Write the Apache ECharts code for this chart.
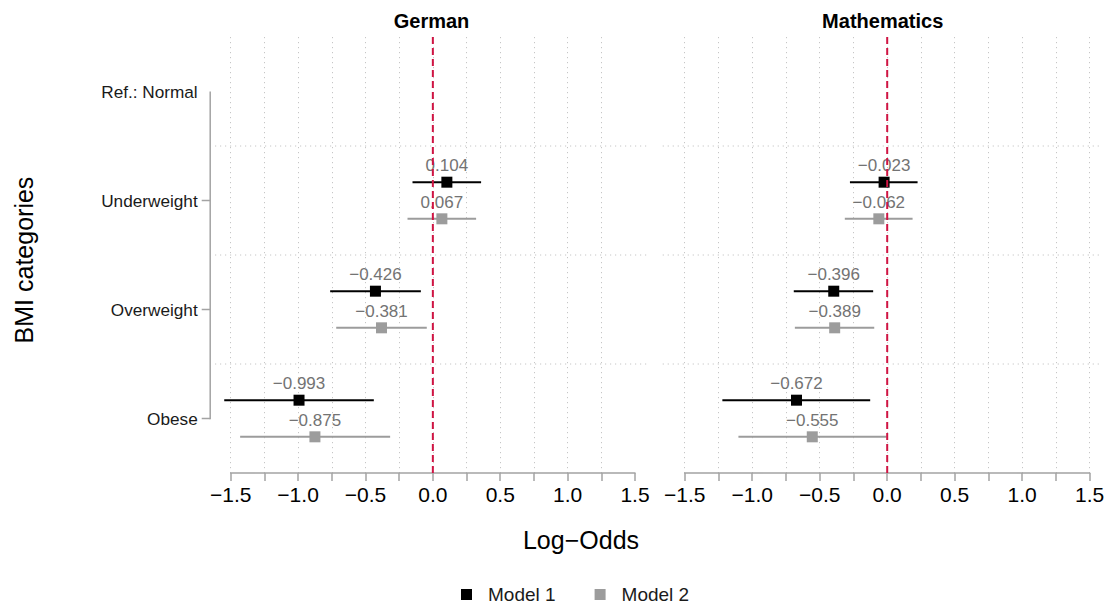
<!DOCTYPE html>
<html><head><meta charset="utf-8">
<script src="https://cdn.jsdelivr.net/npm/echarts@6/dist/echarts.min.js"></script>
<style>html,body{margin:0;padding:0;background:#fff}#c{width:1120px;height:605px}</style>
</head><body><div id="c"></div>
<script>
// ---------- data ----------
const categories = ['Ref.: Normal', 'Underweight', 'Overweight', 'Obese'];
const panels = ['German', 'Mathematics'];
const models = ['Model 1', 'Model 2'];
const xTickMin = -1.5, xTickMax = 1.5, xTickStep = 0.25;

// German (index 0 = reference category, no estimate)
const germanM1Est = [null, 0.104, -0.426, -0.993];
const germanM1Lo  = [null, -0.151, -0.762, -1.548];
const germanM1Hi  = [null, 0.358, -0.089, -0.438];
const germanM2Est = [null, 0.067, -0.381, -0.875];
const germanM2Lo  = [null, -0.188, -0.717, -1.430];
const germanM2Hi  = [null, 0.321, -0.045, -0.317];
// Mathematics
const mathM1Est = [null, -0.023, -0.396, -0.672];
const mathM1Lo  = [null, -0.276, -0.692, -1.221];
const mathM1Hi  = [null, 0.225, -0.104, -0.126];
const mathM2Est = [null, -0.062, -0.389, -0.555];
const mathM2Lo  = [null, -0.314, -0.684, -1.102];
const mathM2Hi  = [null, 0.188, -0.096, -0.004];

// ---------- build ----------
const FONT = '"Liberation Sans", Arial, Helvetica, sans-serif';
const AX = '#a3a3a3';
const modelColors = ['#000000', '#9c9c9c'];
const fmt = v => v.toFixed(3).replace('-', '\u2212');
const fmtTick = v => (Math.abs(v * 2 - Math.round(v * 2)) < 1e-9) ? v.toFixed(1).replace('-', '\u2212') : '';

function rows(est, lo, hi) {
  const out = [];
  for (let i = 0; i < categories.length; i++) {
    if (est[i] == null) continue;
    out.push([lo[i], hi[i], est[i], i]);
  }
  return out;
}
const panelData = [
  [rows(germanM1Est, germanM1Lo, germanM1Hi), rows(germanM2Est, germanM2Lo, germanM2Hi)],
  [rows(mathM1Est, mathM1Lo, mathM1Hi), rows(mathM2Est, mathM2Lo, mathM2Hi)]
];

function bandOf(api) {
  return Math.abs(api.coord([0, 1])[1] - api.coord([0, 0])[1]);
}

function estRender(sign, color) {
  return function (params, api) {
    const lo = api.value(0), hi = api.value(1), est = api.value(2), ci = api.value(3);
    const dy = sign * bandOf(api) * 0.168;
    const pLo = api.coord([lo, ci]), pHi = api.coord([hi, ci]), pE = api.coord([est, ci]);
    const y = pE[1] + dy;
    return {
      type: 'group',
      children: [
        { type: 'line', shape: { x1: pLo[0], y1: y, x2: pHi[0], y2: y }, style: { stroke: color, lineWidth: 2 } },
        { type: 'rect', shape: { x: pE[0] - 5.5, y: y - 5.5, width: 11, height: 11 }, style: { fill: color } },
        { type: 'text', x: pE[0], y: y - 16.5, style: { text: fmt(est), fill: '#737373', fontSize: 17, fontFamily: FONT, align: 'center', verticalAlign: 'middle' } }
      ]
    };
  };
}

const padL = [15.7, 22], padR = [13, 13];
const grids = [
  { left: 230.7, top: 37, width: 404.3, height: 436 },
  { left: 684.7, top: 37, width: 405, height: 436 }
];

const xAxes = [], yAxes = [], series = [], titles = [];
panels.forEach((p, pi) => {
  xAxes.push({
    type: 'value', gridIndex: pi, min: xTickMin, max: xTickMax, interval: xTickStep,
    axisLine: { show: true, lineStyle: { color: AX, width: 1.5 } },
    axisTick: { show: true, length: 8, lineStyle: { color: AX, width: 1.5 } },
    splitLine: { show: true, showMaxLine: pi === 1, lineStyle: { color: '#c6c6c6', width: 1, type: [1.2, 3.8] } },
    axisLabel: { fontSize: 21, color: '#000', fontFamily: FONT, margin: 11, formatter: fmtTick, showMinLabel: true, showMaxLabel: true }
  });
  yAxes.push({
    type: 'category', gridIndex: pi, data: categories, inverse: true, show: pi === 0,
    offset: 20,
    axisLine: { show: false }, axisTick: { show: false }, splitLine: { show: false },
    axisLabel: { fontSize: 17.2, color: '#1a1a1a', fontFamily: FONT, margin: 13 }
  });
  titles.push({
    text: p, left: grids[pi].left + grids[pi].width / 2 - (padL[pi] - padR[pi]) / 2, top: 11, textAlign: 'center', padding: 0,
    textStyle: { fontSize: 20, fontWeight: 'bold', color: '#000', fontFamily: FONT }
  });
  // horizontal dotted separators between categories
  series.push({
    type: 'custom', xAxisIndex: pi, yAxisIndex: pi, silent: true, z: 1, clip: false,
    data: categories.slice(0, -1).map((c, i) => [0, i]),
    renderItem: function (params, api) {
      const i = api.value(1);
      const cs = params.coordSys;
      const y = (api.coord([0, i])[1] + api.coord([0, i + 1])[1]) / 2;
      return { type: 'line', shape: { x1: cs.x - padL[pi], y1: y, x2: cs.x + cs.width + padR[pi], y2: y },
        style: { stroke: '#c6c6c6', lineWidth: 1, lineDash: [1.2, 3.8] } };
    }
  });
  // y axis (left panel only): line from first to last category, ticks except reference
  if (pi === 0) {
    series.push({
      type: 'custom', xAxisIndex: pi, yAxisIndex: pi, silent: true, z: 3, clip: false,
      data: [[0, 0]],
      renderItem: function (params, api) {
        const x = params.coordSys.x - 20.5;
        const y0 = api.coord([0, 0])[1], y1 = api.coord([0, categories.length - 1])[1];
        const children = [{ type: 'line', shape: { x1: x, y1: y0, x2: x, y2: y1 + 0.75 }, style: { stroke: AX, lineWidth: 1.5 } }];
        for (let i = 1; i < categories.length; i++) {
          const y = api.coord([0, i])[1];
          children.push({ type: 'line', shape: { x1: x - 8.5, y1: y, x2: x, y2: y }, style: { stroke: AX, lineWidth: 1.5 } });
        }
        return { type: 'group', children };
      }
    });
  }
  // estimates + CIs
  models.forEach((m, mi) => {
    series.push({
      type: 'custom', name: m, xAxisIndex: pi, yAxisIndex: pi, z: 5, clip: false,
      itemStyle: { color: modelColors[mi] },
      data: panelData[pi][mi],
      renderItem: estRender(mi === 0 ? -1 : 1, modelColors[mi])
    });
  });
  // red dashed zero line
  series.push({
    type: 'custom', xAxisIndex: pi, yAxisIndex: pi, silent: true, z: 10, clip: false,
    data: [[0, 0]],
    renderItem: function (params, api) {
      const cs = params.coordSys;
      const x = api.coord([api.value(0), 0])[0];
      return { type: 'line', shape: { x1: x, y1: cs.y, x2: x, y2: cs.y + cs.height + 2 },
        style: { stroke: '#cf1443', lineWidth: 2, lineDash: [7, 4] } };
    }
  });
});

const chart = echarts.init(document.getElementById('c'), null, { renderer: 'svg', width: 1120, height: 605 });
chart.setOption({
  animation: false,
  backgroundColor: '#ffffff',
  textStyle: { fontFamily: FONT },
  title: titles,
  grid: grids,
  xAxis: xAxes,
  yAxis: yAxes,
  legend: {
    data: models, left: 461, top: 585, padding: 0, icon: 'rect', itemWidth: 11, itemHeight: 11, itemGap: 39,
    selectedMode: false,
    textStyle: { fontSize: 19, color: '#1a1a1a', fontFamily: FONT, padding: [0, 0, 0, 11] }
  },
  graphic: [
    { type: 'text', x: 581, y: 540, style: { text: 'Log\u2212Odds', fontSize: 25, fill: '#000', fontFamily: FONT, align: 'center', verticalAlign: 'middle' } },
    { type: 'text', x: 23.5, y: 260, rotation: Math.PI / 2, style: { text: 'BMI categories', fontSize: 25, fill: '#000', fontFamily: FONT, align: 'center', verticalAlign: 'middle' } }
  ],
  series
});
</script>
</body></html>
